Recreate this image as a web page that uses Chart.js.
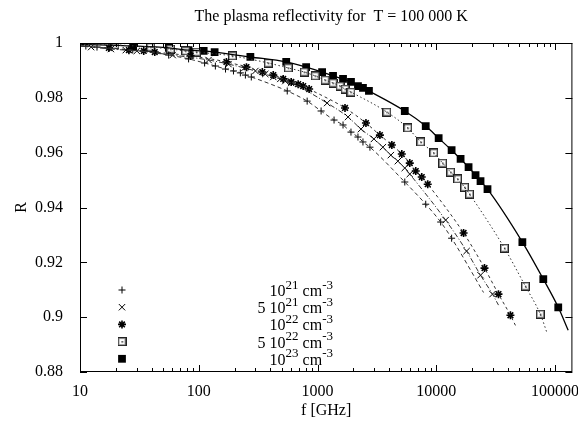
<!DOCTYPE html>
<html lang="en">
<head>
<meta charset="UTF-8" />
<title>Plasma reflectivity</title>
<script src="https://cdn.jsdelivr.net/npm/chart.js"></script>
<style>
  body { margin: 0; background: #fff; }
  #wrap { width: 578px; height: 425px; }
</style>
</head>
<body>
<div id="wrap"><canvas id="chart"></canvas></div>
<script>
const seriesLabels = ['10^{21} cm^{-3}', '5 10^{21} cm^{-3}', '10^{22} cm^{-3}', '5 10^{22} cm^{-3}', '10^{23} cm^{-3}'];

// f in GHz, R
const freqA = [11.2, 13.9, 27.8, 55.8, 82.1, 112, 138, 168, 196, 224, 247, 277, 556, 818, 1072, 1378, 1640, 1913, 2190, 2413, 2763, 5430, 8150, 10890, 13460];
const reflA = [0.9989, 0.9985, 0.9974, 0.9956, 0.9942, 0.9927, 0.9916, 0.9905, 0.9898, 0.9891, 0.9883, 0.9876, 0.9825, 0.9788, 0.9752, 0.9719, 0.9701, 0.9675, 0.9657, 0.9639, 0.9620, 0.9493, 0.9412, 0.9347, 0.9288];

const freqB = [12.4, 18.2, 24.3, 30.1, 60.3, 121, 178, 242, 300, 363, 424, 486, 535, 600, 1204, 1806, 2322, 2984, 3551, 4143, 4747, 5430, 5981, 11990, 17990, 23580, 29730];
const reflB = [0.9985, 0.9978, 0.9974, 0.9971, 0.9956, 0.9938, 0.9923, 0.9909, 0.9898, 0.9887, 0.9876, 0.9869, 0.9861, 0.9854, 0.9781, 0.9730, 0.9686, 0.9650, 0.9620, 0.9591, 0.9569, 0.9544, 0.9522, 0.9354, 0.9241, 0.9153, 0.9084];

const freqC = [17.5, 25.8, 34.4, 42.6, 85.3, 171, 252, 343, 424, 514, 600, 687, 757, 850, 1704, 2557, 3352, 4225, 5125, 5981, 6716, 7543, 8470, 16980, 25470, 33390, 42100];
const reflC = [0.9982, 0.9974, 0.9971, 0.9967, 0.9953, 0.9931, 0.9912, 0.9894, 0.9883, 0.9869, 0.9858, 0.9850, 0.9843, 0.9832, 0.9763, 0.9708, 0.9664, 0.9628, 0.9595, 0.9562, 0.9533, 0.9511, 0.9485, 0.9307, 0.9179, 0.9084, 0.9007];

const freqD = [19.7, 39.4, 58.0, 77.5, 95.8, 192, 385, 567, 772, 955, 1158, 1351, 1547, 1704, 1913, 3836, 5756, 7397, 9510, 11316, 13206, 15118, 17310, 19060, 37480, 56230, 75110];
const reflD = [0.9993, 0.9985, 0.9978, 0.9971, 0.9967, 0.9953, 0.9927, 0.9909, 0.9894, 0.9880, 0.9865, 0.9854, 0.9843, 0.9832, 0.9821, 0.9748, 0.9690, 0.9639, 0.9599, 0.9562, 0.9529, 0.9504, 0.9474, 0.9449, 0.9252, 0.9113, 0.9011];

const freqE = [28, 56, 82, 110, 136, 272, 545, 802, 1093, 1351, 1640, 1913, 2190, 2413, 2710, 5430, 8150, 10470, 13460, 16020, 18700, 21410, 23580, 26990, 53070, 79620, 106400];
const reflE = [0.9989, 0.9982, 0.9974, 0.9971, 0.9967, 0.9949, 0.9931, 0.9912, 0.9894, 0.9880, 0.9869, 0.9858, 0.9843, 0.9836, 0.9825, 0.9752, 0.9697, 0.9653, 0.9609, 0.9577, 0.9547, 0.9518, 0.9496, 0.9467, 0.9274, 0.9139, 0.9036];

// the fitted curves: value at the left edge (10 GHz) and where each one stops
const curveStartR = [0.9990, 0.9989, 0.9989, 0.9995, 0.9995];
const curveEndF = [25000, 33400, 46400, 86000, 129000];
const curveEndR = [0.9090, 0.9044, 0.8970, 0.8940, 0.8952];

const xTicks = [10, 100, 1000, 10000, 100000];
const yTicks = [0.88, 0.9, 0.92, 0.94, 0.96, 0.98, 1];

const freqs = [freqA, freqB, freqC, freqD, freqE];
const refls = [reflA, reflB, reflC, reflD, reflE];

const serif = 'Liberation Serif, Times New Roman, serif';

// open square with a dot in it
const dotBox = document.createElement('canvas');
dotBox.width = 9; dotBox.height = 9;
(function () {
  const c = dotBox.getContext('2d');
  c.fillStyle = '#fff';
  c.fillRect(0, 0, 9, 9);
  c.strokeStyle = '#222';
  c.lineWidth = 1;
  c.strokeRect(0.5, 0.5, 8, 8);
  c.strokeStyle = '#999';
  c.strokeRect(1.5, 1.5, 6, 6);
  c.fillStyle = '#222';
  c.fillRect(4, 4, 1.5, 1.5);
})();

const markers = [
  { pointStyle: 'cross', pointRadius: 3.5, pointBorderWidth: 1 },
  { pointStyle: 'crossRot', pointRadius: 4.5, pointBorderWidth: 1 },
  { pointStyle: 'star', pointRadius: 4, pointBorderWidth: 1.6 },
  { pointStyle: dotBox, pointRadius: 4.5, pointBorderWidth: 1 },
  { pointStyle: 'rect', pointRadius: 5.5, pointBorderWidth: 0 }
];
const dashes = [[4, 3], [5, 2, 1, 2], [3, 3], [1.5, 2.5], []];

const datasets = [];
// curves first so the markers sit on top
freqs.forEach((f, i) => {
  const pts = [{ x: 10, y: curveStartR[i] }]
    .concat(f.map((v, j) => ({ x: v, y: refls[i][j] })))
    .concat([{ x: curveEndF[i], y: curveEndR[i] }]);
  datasets.push({
    label: 'curve' + i,
    data: pts,
    showLine: true,
    pointRadius: 0,
    borderColor: i === 4 ? '#000' : '#333',
    borderWidth: i === 4 ? 1.3 : 1,
    borderDash: dashes[i],
    cubicInterpolationMode: 'monotone',
    fill: false
  });
});
freqs.forEach((f, i) => {
  datasets.push(Object.assign({
    label: seriesLabels[i],
    data: f.map((v, j) => ({ x: v, y: refls[i][j] })),
    showLine: false,
    borderColor: '#000',
    backgroundColor: i === 4 ? '#000' : '#fff'
  }, markers[i]));
});

function drawRich(ctx, text, xRight, y) {
  const parts = text.split(/\^\{([^}]*)\}/);
  const fonts = parts.map((p, i) => (i % 2 ? '13px ' : '16px ') + serif);
  const widths = parts.map((p, i) => { ctx.font = fonts[i]; return ctx.measureText(p).width; });
  let x = xRight - widths.reduce((a, b) => a + b, 0);
  parts.forEach((p, i) => {
    ctx.font = fonts[i];
    ctx.fillText(p, x, i % 2 ? y - 7.5 : y);
    x += widths[i];
  });
}

const framePlugin = {
  id: 'frame',
  afterDatasetsDraw(chart) {
    const { ctx, chartArea: a, scales } = chart;
    ctx.save();
    ctx.strokeStyle = '#000';
    ctx.lineWidth = 1;
    ctx.strokeRect(a.left + 0.5, a.top + 0.5, a.right - a.left - 1, a.bottom - a.top - 1);
    ctx.beginPath();
    // x ticks, major and minor, bottom and top
    for (let d = 10; d <= 100000; d *= 10) {
      for (let k = 1; k <= 9; k++) {
        const v = d * k;
        if (v > scales.x.max) break;
        const px = Math.round(scales.x.getPixelForValue(v)) + 0.5;
        const len = k === 1 ? 7 : 4;
        ctx.moveTo(px, a.bottom); ctx.lineTo(px, a.bottom - len);
        ctx.moveTo(px, a.top); ctx.lineTo(px, a.top + len);
      }
    }
    yTicks.forEach(v => {
      const py = Math.round(scales.y.getPixelForValue(v)) + 0.5;
      ctx.moveTo(a.left, py); ctx.lineTo(a.left + 7, py);
      ctx.moveTo(a.right, py); ctx.lineTo(a.right - 7, py);
    });
    ctx.stroke();
    ctx.restore();
  },
  afterDraw(chart) {
    const { ctx, chartArea: a } = chart;
    ctx.save();
    ctx.fillStyle = '#000';
    ctx.font = '16px ' + serif;
    ctx.textAlign = 'center';
    ctx.textBaseline = 'middle';
    ctx.fillText('The plasma reflectivity for  T = 100 000 K', (a.left + a.right) / 2 + 5, 17);

    // key, lower left inside the plot
    ctx.textAlign = 'left';
    ctx.textBaseline = 'alphabetic';
    const n = seriesLabels.length;
    seriesLabels.forEach((lab, i) => {
      const y = 290 + i * 17.2;
      const ds = chart.data.datasets[n + i];
      ctx.strokeStyle = '#000';
      ctx.lineWidth = ds.pointBorderWidth;
      ctx.fillStyle = i === 4 ? '#000' : '#fff';
      Chart.helpers.drawPoint(ctx, {
        pointStyle: ds.pointStyle,
        radius: ds.pointRadius,
        rotation: 0,
        borderWidth: ds.pointBorderWidth
      }, 122, y);
      ctx.fillStyle = '#000';
      drawRich(ctx, lab, 333, y + 6);
    });
    ctx.restore();
  }
};

new Chart(document.getElementById('chart'), {
  type: 'scatter',
  data: { datasets },
  plugins: [framePlugin],
  options: {
    responsive: true,
    maintainAspectRatio: false,
    animation: false,
    layout: { padding: { top: 43, right: 4, left: 0, bottom: 0 } },
    plugins: { legend: { display: false }, tooltip: { enabled: false } },
    scales: {
      x: {
        type: 'logarithmic',
        min: 10,
        max: 140000,
        afterBuildTicks: s => { s.ticks = xTicks.map(v => ({ value: v })); },
        afterFit: s => { s.height = 53; s.paddingLeft = 0; s.paddingRight = 0; },
        grid: { display: false },
        border: { display: false },
        ticks: {
          callback: v => String(v),
          autoSkip: false,
          maxRotation: 0,
          padding: 2,
          color: '#000',
          font: { family: serif, size: 16 }
        },
        title: {
          display: true,
          text: 'f [GHz]',
          color: '#000',
          font: { family: serif, size: 16 },
          padding: { top: 0, bottom: 5 }
        }
      },
      y: {
        min: 0.88,
        max: 1,
        afterBuildTicks: s => { s.ticks = yTicks.map(v => ({ value: v })); },
        afterFit: s => { s.width = 80; s.paddingTop = 0; s.paddingBottom = 0; },
        grid: { display: false },
        border: { display: false },
        ticks: {
          callback: v => String(+v.toFixed(2)),
          padding: 9,
          color: '#000',
          font: { family: serif, size: 16 }
        },
        title: {
          display: true,
          text: 'R',
          color: '#000',
          font: { family: serif, size: 16 },
          padding: { top: 12, bottom: 0 }
        }
      }
    }
  }
});
</script>
</body>
</html>
